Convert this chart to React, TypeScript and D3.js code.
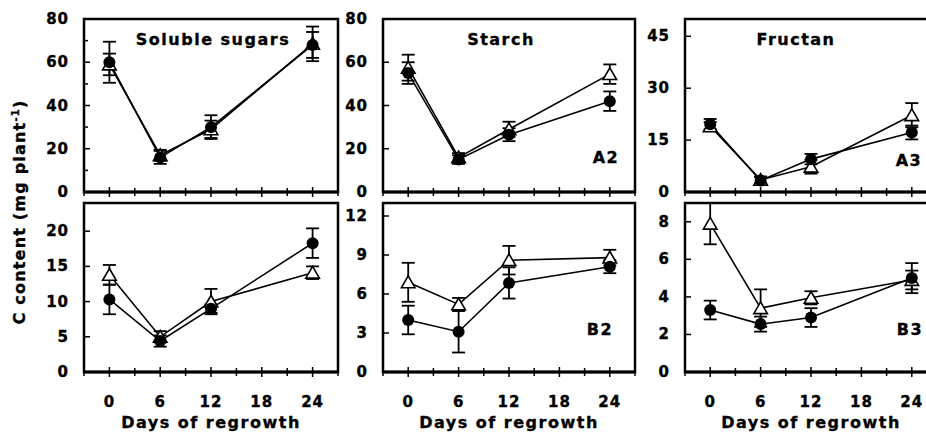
import React from "react";
import * as d3 from "d3";

const days = [0, 6, 12, 24];
const xTicks = [-3, 0, 3, 6, 9, 12, 15, 18, 21, 24, 27];
const xTickLabels = [0, 6, 12, 18, 24];

// Top row
const sugarCirc = [60, 16, 30, 68];
const sugarCircErr = [9.5, 3, 5.5, 6];
const sugarTri = [59, 17, 29, 68.5];
const sugarTriErr = [5, 2.5, 4, 8];

const starchCirc = [55, 15, 26.5, 42];
const starchCircErr = [5, 2, 3, 4.5];
const starchTri = [57.5, 16, 29, 54.5];
const starchTriErr = [6, 2, 3.5, 4.5];

const fructanCirc = [19.6, 3.3, 9.5, 17.2];
const fructanCircErr = [1.5, 1, 1.5, 2];
const fructanTri = [19, 3.5, 7.3, 22.2];
const fructanTriErr = [1.2, 1, 2, 3.5];

// Bottom row
const b1Circ = [10.3, 4.4, 9.0, 18.3];
const b1CircErr = [2.1, 0.8, 0.6, 2.1];
const b1Tri = [13.8, 5.0, 10.0, 14.1];
const b1TriErr = [1.4, 0.8, 1.8, 0.9];

const b2Circ = [4.0, 3.1, 6.85, 8.1];
const b2CircErr = [1.1, 1.6, 1.2, 0.5];
const b2Tri = [6.9, 5.2, 8.6, 8.8];
const b2TriErr = [1.5, 0.5, 1.1, 0.6];

const b3Circ = [3.3, 2.55, 2.9, 5.0];
const b3CircErr = [0.5, 0.4, 0.5, 0.8];
const b3Tri = [7.9, 3.4, 3.95, 4.9];
const b3TriErr = [1.1, 1.0, 0.35, 0.5];

const FONT = "'DejaVu Sans', sans-serif";
const TXT = { fontFamily: FONT, fontWeight: "bold" as const, stroke: "#000", strokeWidth: 0.35 };

type PanelSpec = {
  x0: number; x1: number; y0: number; y1: number;
  yMax: number; yTicks: number[]; yMinor: number[];
  circ: number[]; circErr: number[]; tri: number[]; triErr: number[];
  title?: string; titleX?: number; tag?: string; tagX?: number; tagY?: number;
  xLabels: boolean;
};

const colX = [[84, 338], [383, 635], [685, 937]];
const topY = [19, 192];
const botY = [203, 372];

const panels: PanelSpec[] = [
  { x0: colX[0][0], x1: colX[0][1], y0: topY[0], y1: topY[1], yMax: 80, yTicks: [0, 20, 40, 60, 80], yMinor: [10, 30, 50, 70],
    circ: sugarCirc, circErr: sugarCircErr, tri: sugarTri, triErr: sugarTriErr, title: "Soluble sugars", titleX: 213, xLabels: false },
  { x0: colX[1][0], x1: colX[1][1], y0: topY[0], y1: topY[1], yMax: 80, yTicks: [0, 20, 40, 60, 80], yMinor: [],
    circ: starchCirc, circErr: starchCircErr, tri: starchTri, triErr: starchTriErr, title: "Starch", titleX: 501, tag: "A2", tagX: 606, tagY: 163, xLabels: false },
  { x0: colX[2][0], x1: colX[2][1], y0: topY[0], y1: topY[1], yMax: 50, yTicks: [0, 15, 30, 45], yMinor: [],
    circ: fructanCirc, circErr: fructanCircErr, tri: fructanTri, triErr: fructanTriErr, title: "Fructan", titleX: 796, tag: "A3", tagX: 909, tagY: 166, xLabels: false },
  { x0: colX[0][0], x1: colX[0][1], y0: botY[0], y1: botY[1], yMax: 24, yTicks: [0, 5, 10, 15, 20], yMinor: [],
    circ: b1Circ, circErr: b1CircErr, tri: b1Tri, triErr: b1TriErr, xLabels: true },
  { x0: colX[1][0], x1: colX[1][1], y0: botY[0], y1: botY[1], yMax: 13, yTicks: [0, 3, 6, 9, 12], yMinor: [],
    circ: b2Circ, circErr: b2CircErr, tri: b2Tri, triErr: b2TriErr, tag: "B2", tagX: 600, tagY: 335, xLabels: true },
  { x0: colX[2][0], x1: colX[2][1], y0: botY[0], y1: botY[1], yMax: 9, yTicks: [0, 2, 4, 6, 8], yMinor: [],
    circ: b3Circ, circErr: b3CircErr, tri: b3Tri, triErr: b3TriErr, tag: "B3", tagX: 910, tagY: 335, xLabels: true },
];

function Panel({ p }: { p: PanelSpec }) {
  const x = d3.scaleLinear().domain([-3, 27]).range([p.x0, p.x1]);
  const y = d3.scaleLinear().domain([0, p.yMax]).range([p.y1, p.y0]);
  const line = d3.line<number>().x((_, i) => x(days[i])).y((d) => y(d));
  const cap = 6.5;
  const tri = d3.symbol().type(d3.symbolTriangle).size(80)();
  const errBars = (vals: number[], errs: number[], key: string) =>
    vals.map((v, i) => {
      const cx = x(days[i]);
      const top = Math.max(y(v + errs[i]), p.y0);
      const bot = y(v - errs[i]);
      return (
        <g key={key + i} stroke="#000" strokeWidth={1.8}>
          <line x1={cx} x2={cx} y1={top} y2={bot} />
          <line x1={cx - cap} x2={cx + cap} y1={top} y2={top} />
          <line x1={cx - cap} x2={cx + cap} y1={bot} y2={bot} />
        </g>
      );
    });
  return (
    <g>
      <rect x={p.x0} y={p.y0} width={p.x1 - p.x0} height={p.y1 - p.y0} fill="none" stroke="#000" strokeWidth={2.5} />
      <line x1={p.x0} x2={p.x1} y1={p.y1} y2={p.y1} stroke="#000" strokeWidth={3} />
      {xTicks.map((t) => {
        const major = t % 6 === 0;
        return <line key={"xt" + t} x1={x(t)} x2={x(t)} y1={p.y1 - (major ? 5 : 4)} y2={p.y1 + (major ? 5 : 4)} stroke="#000" strokeWidth={1.5} />;
      })}
      {p.xLabels && xTickLabels.map((t) => (
        <text key={"xl" + t} x={x(t)} y={407} textAnchor="middle" {...TXT} fontSize={15} letterSpacing={1}>{t}</text>
      ))}
      {p.yTicks.map((t) => (
        <g key={"yt" + t}>
          <line x1={p.x0} x2={p.x0 + 6} y1={y(t)} y2={y(t)} stroke="#000" strokeWidth={1.5} />
          <text x={p.x0 - 15} y={y(t) + 5} textAnchor="end" {...TXT} fontSize={15} letterSpacing={1}>{t}</text>
        </g>
      ))}
      {p.yMinor.map((t) => (
        <line key={"ym" + t} x1={p.x0} x2={p.x0 + 4} y1={y(t)} y2={y(t)} stroke="#000" strokeWidth={1.5} />
      ))}
      <path d={line(p.tri) || ""} fill="none" stroke="#000" strokeWidth={1.6} />
      <path d={line(p.circ) || ""} fill="none" stroke="#000" strokeWidth={1.6} />
      {errBars(p.tri, p.triErr, "te")}
      {errBars(p.circ, p.circErr, "ce")}
      {p.tri.map((v, i) => (
        <path key={"tr" + i} d={tri || ""} transform={`translate(${x(days[i])},${y(v) + 1.5})`} fill="#fff" stroke="#000" strokeWidth={1.6} />
      ))}
      {p.circ.map((v, i) => (
        <circle key={"ci" + i} cx={x(days[i])} cy={y(v)} r={6} fill="#000" />
      ))}
      {p.title && (
        <text x={p.titleX} y={45} textAnchor="middle" {...TXT} fontSize={16} letterSpacing={1.5}>{p.title}</text>
      )}
      {p.tag && (
        <text x={p.tagX} y={p.tagY} textAnchor="middle" {...TXT} fontSize={16} letterSpacing={1.5}>{p.tag}</text>
      )}
      {p.xLabels && (
        <text x={(p.x0 + p.x1) / 2 - 0} y={428} textAnchor="middle" {...TXT} fontSize={16} letterSpacing={1.5}>Days of regrowth</text>
      )}
    </g>
  );
}

export default function App() {
  return (
    <svg width={926} height={432} style={{ position: "absolute", left: 0, top: 0, background: "#fff" }}>
      <rect x={0} y={0} width={926} height={432} fill="#fff" />
      {panels.map((p, i) => <Panel key={i} p={p} />)}
      <text transform="translate(25,212) rotate(-90)" textAnchor="middle" {...TXT} fontSize={16} letterSpacing={1.2}>
        C content (mg plant<tspan dy={-6} fontSize={10}>-1</tspan><tspan dy={6}>)</tspan>
      </text>
    </svg>
  );
}
